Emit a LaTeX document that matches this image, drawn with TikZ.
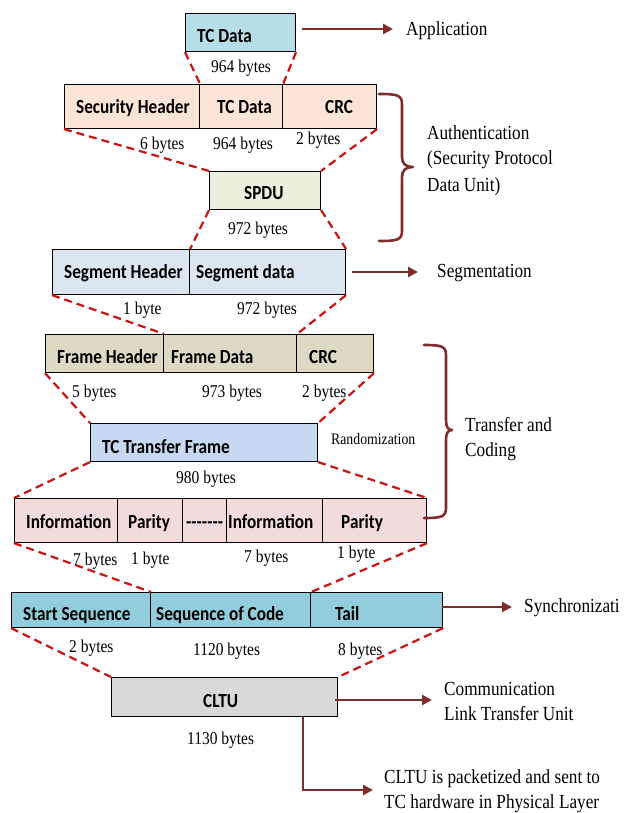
\documentclass[tikz,border=0pt]{standalone}
\usepackage{fontspec}
\setmainfont{Liberation Serif}[FakeStretch=0.86]
\newfontfamily\boxfont{Carlito}[FakeStretch=0.86]
\usetikzlibrary{arrows.meta}
\definecolor{dashred}{RGB}{200,20,20}
\definecolor{arrred}{RGB}{128,45,45}
\definecolor{cA}{RGB}{183,221,232}
\definecolor{cB}{RGB}{252,229,214}
\definecolor{cC}{RGB}{235,241,222}
\definecolor{cD}{RGB}{220,230,241}
\definecolor{cE}{RGB}{221,217,195}
\definecolor{cF}{RGB}{198,217,241}
\definecolor{cG}{RGB}{242,220,219}
\definecolor{cH}{RGB}{146,205,220}
\definecolor{cI}{RGB}{217,217,217}
\tikzset{
 fld/.style={draw=black, line width=1.1pt, inner sep=0pt, anchor=north west},
 bt/.style={inner sep=0pt, anchor=base west, font=\boxfont\bfseries\fontsize{20}{24}\selectfont},
 lab/.style={inner sep=0pt, anchor=base west, font=\fontsize{18}{21}\selectfont},
 side/.style={inner sep=0pt, anchor=base west, font=\fontsize{20}{24}\selectfont},
 small/.style={inner sep=0pt, anchor=base west, font=\fontsize{16}{19}\selectfont},
 dsh/.style={draw=dashred, line width=2.2pt, dash pattern=on 8pt off 5pt},
 arr/.style={draw=arrred, line width=2.6pt, -{Triangle[length=10pt,width=10pt]}},
 brc/.style={draw=arrred, line width=2.6pt, line join=round, line cap=round},
}
\begin{document}
\begin{tikzpicture}[x=1pt,y=-1pt]
\useasboundingbox (0,0) rectangle (634,813);

% ---------- boxes ----------
\node[fld, fill=cA, minimum width=110pt, minimum height=38pt] (b1) at (185,13) {};

\node[fld, fill=cB, minimum width=135pt, minimum height=44pt] (b2a) at (64,84) {};
\node[fld, fill=cB, minimum width=83pt, minimum height=44pt] (b2b) at (199,84) {};
\node[fld, fill=cB, minimum width=94pt, minimum height=44pt] (b2c) at (282,84) {};

\node[fld, fill=cC, minimum width=111pt, minimum height=38pt] (sp) at (209,171) {};

\node[fld, fill=cD, minimum width=137pt, minimum height=45pt] (sga) at (52,249) {};
\node[fld, fill=cD, minimum width=156pt, minimum height=45pt] (sgb) at (189,249) {};

\node[fld, fill=cE, minimum width=118pt, minimum height=38pt] (fra) at (45,334) {};
\node[fld, fill=cE, minimum width=133pt, minimum height=38pt] (frb) at (163,334) {};
\node[fld, fill=cE, minimum width=77pt, minimum height=38pt] (frc) at (296,334) {};

\node[fld, fill=cF, minimum width=227pt, minimum height=38pt] (tf) at (90,423) {};

\node[fld, fill=cG, minimum width=103pt, minimum height=44pt] (ia) at (14,498) {};
\node[fld, fill=cG, minimum width=65pt, minimum height=44pt] (ib) at (117,498) {};
\node[fld, fill=cG, minimum width=44pt, minimum height=44pt] (ic) at (182,498) {};
\node[fld, fill=cG, minimum width=96pt, minimum height=44pt] (id) at (226,498) {};
\node[fld, fill=cG, minimum width=104pt, minimum height=44pt] (ie) at (322,498) {};

\node[fld, fill=cH, minimum width=139pt, minimum height=35pt] (sa) at (11,592) {};
\node[fld, fill=cH, minimum width=160pt, minimum height=35pt] (sb) at (150,592) {};
\node[fld, fill=cH, minimum width=132pt, minimum height=35pt] (sc) at (310,592) {};

\node[fld, fill=cI, minimum width=226pt, minimum height=39pt] (cl) at (111,677) {};

% ---------- dashed connectors ----------
\draw[dsh] (b1.south west) -- (b2a.north east);
\draw[dsh] (b1.south east) -- (b2b.north east);
\draw[dsh] (b2a.south west) -- (sp.north west);
\draw[dsh] (b2c.south east) -- (sp.north east);
\draw[dsh] (sp.south west) -- (sga.north east);
\draw[dsh] (sp.south east) -- (sgb.north east);
\draw[dsh] (sga.south west) -- (fra.north east);
\draw[dsh] (sgb.south east) -- (frb.north east);
\draw[dsh] (fra.south west) -- (tf.north west);
\draw[dsh] (frc.south east) -- (tf.north east);
\draw[dsh] (tf.south west) -- (ia.north west);
\draw[dsh] (tf.south east) -- (ie.north east);
\draw[dsh] (ia.south west) -- (sa.north east);
\draw[dsh] (ie.south east) -- (sb.north east);
\draw[dsh] (sa.south west) -- (cl.north west);
\draw[dsh] (sc.south east) -- (cl.north east);

% ---------- box texts ----------
\node[bt] (t1) at (197,43) {TC Data};
\node[bt] (t2a) at (76,114) {Security Header};
\node[bt] (t2b) at (217,114) {TC Data};
\node[bt] (t2c) at (325,114) {CRC};
\node[bt] (tsp) at (244,199) {SPDU};
\node[bt] (tsga) at (64,278) {Segment Header};
\node[bt] (tsgb) at (196,278) {Segment data};
\node[bt] (tfra) at (57,363) {Frame Header};
\node[bt] (tfrb) at (171,363) {Frame Data};
\node[bt] (tfrc) at (309,363) {CRC};
\node[bt] (ttf) at (102,453) {TC Transfer Frame};
\node[bt] (tia) at (26,528) {Information};
\node[bt] (tib) at (128,528) {Parity};
\node[bt] (tic) at (186,528) {-------};
\node[bt] (tid) at (228,528) {Information};
\node[bt] (tie) at (341,528) {Parity};
\node[bt] (tsa) at (23,620) {Start Sequence};
\node[bt] (tsb) at (156,620) {Sequence of Code};
\node[bt] (tsc) at (335,620) {Tail};
\node[bt] (tcl) at (203,707) {CLTU};

% ---------- byte labels ----------
\node[lab] (l1) at (211,73) {964 bytes};
\node[lab] (l2a) at (140,150) {6 bytes};
\node[lab] (l2b) at (213,150) {964 bytes};
\node[lab] (l2c) at (296,145) {2 bytes};
\node[lab] (l3) at (228,234) {972 bytes};
\node[lab] (l4a) at (123,314) {1 byte};
\node[lab] (l4b) at (237,314) {972 bytes};
\node[lab] (l5a) at (72,397) {5 bytes};
\node[lab] (l5b) at (202,397) {973 bytes};
\node[lab] (l5c) at (302,397) {2 bytes};
\node[lab] (l6) at (176,483) {980 bytes};
\node[lab] (l7a) at (73,565) {7 bytes};
\node[lab] (l7b) at (131,564) {1 byte};
\node[lab] (l7c) at (244,562) {7 bytes};
\node[lab] (l7d) at (337,558) {1 byte};
\node[lab] (l8a) at (69,652) {2 bytes};
\node[lab] (l8b) at (193,655) {1120 bytes};
\node[lab] (l8c) at (338,655) {8 bytes};
\node[lab] (l9) at (187,744) {1130 bytes};

% ---------- side texts ----------
\node[side] (app) at (406,36) {Application};
\node[side] (au1) at (427,140) {Authentication};
\node[side] (au2) at (427,165) {(Security Protocol};
\node[side] (au3) at (427,192) {Data Unit)};
\node[side] (seg) at (437,277) {Segmentation};
\node[small] (rnd) at (331,444) {Randomization};
\node[side] (tc1) at (465,431) {Transfer and};
\node[side] (tc2) at (465,456) {Coding};
\node[side] (syn) at (524,612) {Synchronizati};
\node[side] (cm1) at (444,695) {Communication};
\node[side] (cm2) at (444,720) {Link Transfer Unit};
\node[side] (ph1) at (384,783) {CLTU is packetized and sent to};
\node[side] (ph2) at (384,808) {TC hardware in Physical Layer};

% ---------- arrows ----------
\coordinate (a1s) at (302,29); \coordinate (a1e) at (393,29);
\draw[arr] (a1s) -- (a1e);
\coordinate (a2s) at (352,272); \coordinate (a2e) at (418,272);
\draw[arr] (a2s) -- (a2e);
\coordinate (a3s) at (442,607); \coordinate (a3e) at (512,607);
\draw[arr] (a3s) -- (a3e);
\coordinate (a4s) at (335,700); \coordinate (a4e) at (432,700);
\draw[arr] (a4s) -- (a4e);
\coordinate (a5s) at (303,717); \coordinate (a5m) at (303,790); \coordinate (a5e) at (373,790);
\draw[arr] (a5s) -- (a5m) -- (a5e);

% ---------- braces ----------
\draw[brc] (379,94) .. controls (397,94) and (402,95) .. (402,104) -- (402,157)
  .. controls (402,164) and (406,167) .. (413,167)
  .. controls (406,167) and (402,170) .. (402,177) -- (402,231)
  .. controls (402,240) and (397,241) .. (379,241);
\draw[brc] (424,345) .. controls (441,345) and (446,346) .. (446,355) -- (446,420)
  .. controls (446,427) and (448,430) .. (452,430)
  .. controls (448,430) and (446,433) .. (446,440) -- (446,508)
  .. controls (446,517) and (441,518) .. (424,518);
\end{tikzpicture}
\end{document}
